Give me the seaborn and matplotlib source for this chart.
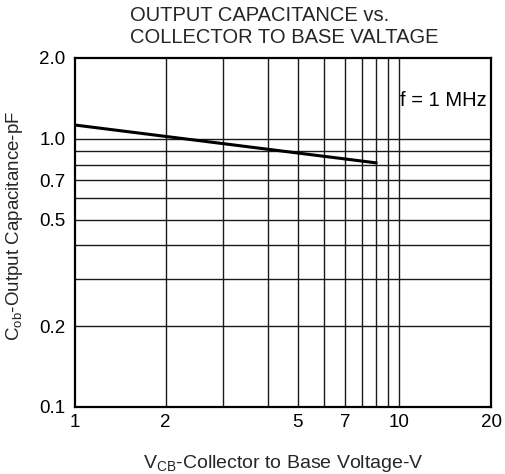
import matplotlib
matplotlib.use("Agg")
import matplotlib.pyplot as plt
import seaborn as sns
import pandas as pd

# ---- data ----
vcb = [1.0, 8.75]                # V
cob = [1.125, 0.813]             # pF

x_tick_pos = [1.0, 1.92, 4.97, 6.99, 10.3, 20.0]
x_tick_labels = ["1", "2", "5", "7", "10", "20"]
x_grid = [1.92, 2.9, 4.0, 5.0, 6.0, 7.0, 7.88, 8.75, 9.55, 10.3]
y_tick_pos = [0.1, 0.2, 0.5, 0.7, 1.0, 2.0]
y_tick_labels = ["0.1", "0.2", "0.5", "0.7", "1.0", "2.0"]
y_grid = [0.2, 0.3, 0.4, 0.5, 0.6, 0.7, 0.8, 0.9, 1.0]

title_lines = ["OUTPUT CAPACITANCE vs.", "COLLECTOR TO BASE VALTAGE"]
note = "f = 1 MHz"
xlabel = r"V$_{\mathregular{CB}}$-Collector to Base Voltage-V"
ylabel = r"C$_{\mathregular{ob}}$-Output Capacitance-pF"

sns.set_theme(style="white")
plt.rcParams["font.family"] = ["Liberation Sans", "DejaVu Sans"]
plt.rcParams["mathtext.fontset"] = "custom"
plt.rcParams["mathtext.rm"] = "Liberation Sans"

df = pd.DataFrame({"vcb": vcb, "cob": cob})

W, H = 506, 474
fig = plt.figure(figsize=(W/100, H/100), dpi=100)
ax = fig.add_axes([75/W, 1-407/H, (491-75)/W, (407-58)/H])
ax.set_xscale("log")
ax.set_yscale("log")
ax.set_xlim(1, 20)
ax.set_ylim(0.1, 2.0)

# grid (vertical only up to x=10, horizontal only up to 1.0)
for xv in x_grid:
    ax.axvline(xv, color="#1a1a1a", lw=1.0, zorder=1)
for yv in y_grid:
    ax.axhline(yv, color="#1a1a1a", lw=1.0, zorder=1)

sns.lineplot(data=df, x="vcb", y="cob", ax=ax, color="black", lw=2.2, zorder=3)

ax.set_xticks(x_tick_pos)
ax.set_xticklabels(x_tick_labels)
ax.set_yticks(y_tick_pos)
ax.set_yticklabels(y_tick_labels)
ax.minorticks_off()
ax.tick_params(axis="both", length=0, labelsize=13.5, colors="black")
ax.tick_params(axis="x", pad=5)
ax.tick_params(axis="y", pad=7)
ax.set_xlabel("")
ax.set_ylabel("")

for s in ax.spines.values():
    s.set_color("black")
    s.set_linewidth(1.6)

fig.text(283/W, 1-463/H, xlabel, fontsize=14, ha="center", va="center")
fig.text(15/W, 1-226/H, ylabel, fontsize=13.5, ha="center", va="center", rotation=90)

ax.text(10.39, 1.394, note, fontsize=14.5, ha="left", va="center", color="black")

fig.text(130/W, 1-21/H, title_lines[0], fontsize=14.5, ha="left", va="baseline")
fig.text(130/W, 1-43/H, title_lines[1], fontsize=14.5, ha="left", va="baseline")

fig.savefig("out.png", dpi=100)
